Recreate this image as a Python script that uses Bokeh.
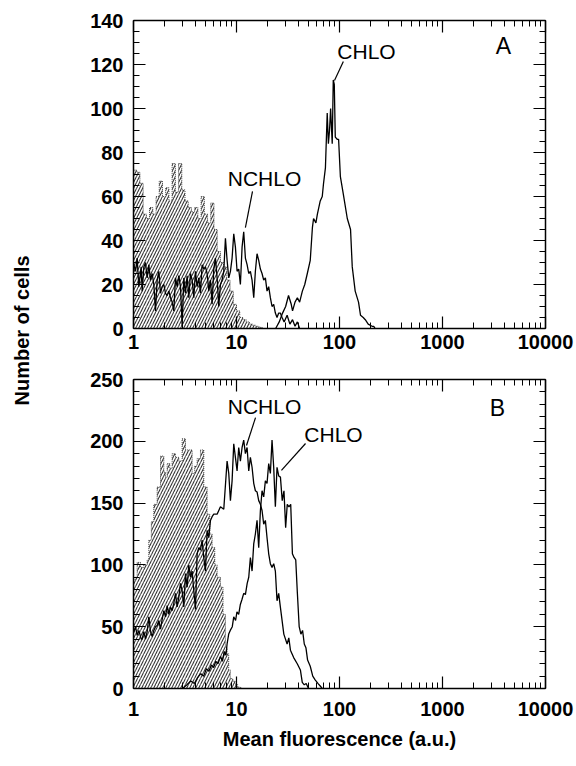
import numpy as np
from bokeh.plotting import figure
from bokeh.layouts import row, column
from bokeh.models import (Range1d, LinearAxis, LogAxis, FixedTicker, SingleIntervalTicker,
                          PrintfTickFormatter, CustomJSTickFormatter)
from bokeh.core.properties import value
from bokeh.embed import file_html
from bokeh.resources import INLINE

FONT = "Liberation Sans"

# ---------------- data: panel A ----------------
ctrlA_edges = [1.0, 1.075, 1.155, 1.241, 1.334, 1.433, 1.540, 1.656, 1.778, 1.911, 2.054, 2.207,
               2.371, 2.548, 2.738, 2.943, 3.162, 3.398, 3.652, 3.924, 4.217, 4.532, 4.870, 5.233,
               5.623, 6.043, 6.494, 6.978, 7.499, 8.058, 8.660, 9.306, 10.0, 10.75, 11.55, 12.41,
               13.34, 14.33, 15.40, 16.56, 17.78]
ctrlA_counts = [72, 71, 66, 52, 50, 55, 52, 60, 67, 60, 64, 58, 75, 62, 75, 63, 58, 55, 53, 55,
                50, 60, 52, 48, 57, 45, 35, 30, 28, 22, 17, 11, 8, 5, 4, 3, 2, 1.5, 1, 0.5]

nchloA_x = [1.007, 1.046, 1.085, 1.127, 1.187, 1.214, 1.26, 1.308, 1.357, 1.409, 1.462, 1.518,
            1.575, 1.635, 1.697, 1.762, 1.829, 1.898, 1.97, 2.045, 2.122, 2.203, 2.286, 2.373,
            2.463, 2.556, 2.653, 2.754, 2.858, 2.967, 3.079, 3.196, 3.317, 3.443, 3.574, 3.709,
            3.85, 3.996, 4.148, 4.305, 4.468, 4.638, 4.813, 4.996, 5.185, 5.382, 5.586, 5.797,
            6.017, 6.246, 6.482, 6.728, 6.983, 7.248, 7.523, 7.808, 8.104, 8.411, 8.73, 9.061,
            9.404, 9.761, 10.13, 10.51, 10.91, 11.33, 11.75, 12.2, 12.67, 13.15, 13.64, 14.16,
            14.7, 15.25, 15.83, 16.43, 17.06, 17.7, 18.37, 19.07, 19.79, 20.54, 21.32, 22.13,
            22.97, 23.84, 24.74, 25.68, 26.65, 27.7, 29.0, 31.0, 33.0, 35.0, 37.0, 39.0, 41.0]
nchloA_y = [29, 26, 32, 19, 28, 17, 28, 30, 23, 29, 22, 25, 20, 8, 22, 26, 16, 19, 20, 16,
            15, 17, 14, 12, 8, 23, 19, 24, 19, 1, 23, 16, 24, 14, 25, 22, 14, 26, 19, 23,
            16, 29, 27, 28, 25, 17, 22, 11, 27, 32, 23, 10, 20, 22, 26, 41, 31, 23, 26, 32,
            43, 37, 26, 27, 20, 37, 44, 32, 29, 25, 26, 22, 14, 26, 34, 31, 27, 25, 22, 23,
            17, 19, 14, 10, 11, 7, 5, 7, 7, 5, 3, 6, 2, 4, 1, 3, 0]

chloA_x = [24, 26, 28, 30, 32, 34, 35, 37, 39, 41, 43.6, 46, 48.7, 52, 54.6, 56, 59, 61, 65, 68,
           70, 73, 76, 78, 80, 82, 85, 87, 89, 91, 95, 98, 102, 109, 119, 128, 133, 142, 153,
           160, 170, 178, 190, 207, 215, 222]
chloA_y = [0, 3, 7, 10, 15, 11, 8, 12, 14, 12, 17, 20, 25, 31, 46, 50, 48, 52, 58, 60,
           66, 73, 98, 84, 90, 100, 84, 113, 111, 87, 86, 86, 69, 61, 50, 45, 28, 17, 12,
           6, 5, 4, 2, 1, 1, 0]

# ---------------- data: panel B ----------------
ctrlB_edges = [1.0, 1.046, 1.085, 1.17, 1.26, 1.357, 1.409, 1.49, 1.575, 1.697, 1.829, 1.97,
               2.045, 2.122, 2.25, 2.373, 2.556, 2.754, 2.967, 3.196, 3.443, 3.709, 3.93, 4.148,
               4.468, 4.813, 5.185, 5.5, 5.797, 6.15, 6.482, 6.983, 7.4, 7.8, 8.1, 8.4, 8.7,
               9.2, 9.7, 10.3, 11.0]
ctrlB_counts = [88, 90, 102, 98, 100, 104, 120, 135, 149, 163, 188, 175, 171, 182, 178, 190,
                187, 184, 202, 193, 193, 174, 180, 186, 193, 163, 141, 125, 114, 100, 90, 82,
                60, 33, 28, 15, 8, 6, 3, 1]

nchloB_x = [1.0, 1.046, 1.085, 1.127, 1.187, 1.214, 1.26, 1.308, 1.357, 1.409, 1.462, 1.518,
            1.575, 1.635, 1.697, 1.762, 1.829, 1.898, 1.97, 2.045, 2.122, 2.203, 2.286, 2.373,
            2.463, 2.556, 2.653, 2.754, 2.858, 2.967, 3.079, 3.196, 3.317, 3.443, 3.574, 3.709,
            3.85, 3.996, 4.148, 4.305, 4.468, 4.638, 4.813, 4.996, 5.185, 5.382, 5.586, 5.797,
            6.017, 6.482, 6.983, 7.523, 8.104, 8.411, 8.73, 9.061, 9.404, 9.761, 10.13, 10.51,
            10.91, 11.33, 11.75, 12.2, 12.67, 13.15, 13.64, 14.16, 14.7, 15.25, 15.83, 16.43,
            17.06, 17.7, 18.37, 19.07, 19.79, 20.54, 21.32, 22.13, 22.97, 23.84, 24.74, 25.68,
            26.65, 28.8, 31.0, 32.2, 33.4, 35.9, 38.9, 41.7, 43.5, 45.5, 47.5, 50.0]
nchloB_y = [45, 50, 43, 47, 40, 40, 46, 40, 46, 58, 46, 42, 47, 50, 51, 55, 48, 56, 63, 58,
            67, 60, 66, 63, 69, 77, 66, 74, 85, 79, 66, 93, 82, 100, 90, 95, 79, 64, 109, 114,
            112, 120, 106, 95, 128, 122, 136, 139, 141, 141, 147, 145, 184, 174, 152, 168, 198,
            187, 176, 195, 184, 195, 201, 190, 195, 176, 187, 179, 166, 160, 159, 152, 149, 144,
            133, 136, 122, 109, 101, 98, 101, 95, 71, 77, 66, 44, 36, 41, 31, 25, 20, 15, 5, 3,
            4, 0]

chloB_x = [3.0, 3.3, 3.6, 3.9, 4.2, 4.5, 4.8, 5.1, 5.4, 5.7, 6.0, 6.3, 6.6, 7.0, 7.3, 7.6, 7.9,
           8.1, 8.4, 8.7, 9.1, 9.4, 9.8, 10.1, 10.5, 10.9, 11.3, 11.75, 12.2, 12.7, 13.15, 13.64,
           14.16, 14.7, 15.25, 15.83, 16.43, 17.06, 17.7, 18.37, 19.07, 19.79, 20.54, 21.32,
           22.13, 22.97, 23.84, 24.74, 25.7, 26.7, 27.8, 28.9, 30.0, 31.1, 32.3, 33.6, 34.9,
           36.2, 37.6, 39.0, 40.6, 42.2, 43.8, 45.5, 47.2, 49.0, 52.0, 55.0, 58.0, 62.0, 65.0, 68.0]
chloB_y = [0, 3, 6, 4, 9, 12, 10, 16, 14, 19, 17, 22, 20, 26, 22, 30, 27, 36, 44, 47, 50, 58,
           55, 62, 60, 68, 72, 77, 76, 85, 90, 106, 95, 117, 125, 136, 114, 144, 160, 155, 168,
           166, 182, 174, 201, 179, 147, 179, 172, 171, 152, 160, 130, 149, 147, 149, 109, 106,
           104, 77, 50, 44, 47, 36, 33, 23, 18, 10, 7, 4, 2, 0]

# ---------------- labels ----------------
x_tick_values = [1, 10, 100, 1000, 10000]
x_minor_values = [m * d for d in [1, 10, 100, 1000] for m in range(2, 10)]

labelsA_text = ["NCHLO", "CHLO", "A"]
labelsA_x = [18.7, 183, 3900]
labelsA_y = [68, 126, 128.5]
leadersA_x0 = [14.3, 109]
leadersA_y0 = [62.3, 121.4]
leadersA_x1 = [12.2, 89.4]
leadersA_y1 = [45.9, 112.7]

labelsB_text = ["NCHLO", "CHLO", "B"]
labelsB_x = [18.7, 87.5, 3420]
labelsB_y = [228, 205.5, 227.3]
leadersB_x0 = [15.3, 46.8]
leadersB_y0 = [219.2, 198.2]
leadersB_x1 = [12.5, 27.3]
leadersB_y1 = [196.6, 176.4]


def make_panel(height, top, bottom, ymax, interval, nminor,
               ctrl_edges, ctrl_counts, n_x, n_y, c_x, c_y,
               lab_t, lab_x, lab_y, lx0, ly0, lx1, ly1, label_standoff, xtitle=None):
    p = figure(width=516, height=height, x_axis_type="log",
               x_range=Range1d(1, 10000), y_range=Range1d(0, ymax),
               output_backend="svg", toolbar_location=None,
               min_border_left=73, min_border_right=31,
               min_border_top=top, min_border_bottom=bottom)
    p.grid.visible = False
    p.outline_line_color = None
    p.background_fill_color = "white"

    xt = FixedTicker(ticks=x_tick_values, minor_ticks=x_minor_values)
    yt = SingleIntervalTicker(interval=interval, num_minor_ticks=nminor)

    def style(ax):
        ax.axis_line_color = "black"
        ax.axis_line_width = 1.5
        ax.major_tick_line_color = "black"
        ax.minor_tick_line_color = "black"
        ax.major_tick_line_width = 1.2
        ax.minor_tick_line_width = 1
        ax.major_tick_in = 12
        ax.major_tick_out = 0
        ax.minor_tick_in = 6
        ax.minor_tick_out = 0
        ax.major_label_text_font = FONT
        ax.major_label_text_font_style = "bold"
        ax.major_label_text_font_size = "20px"
        ax.major_label_text_color = "black"

    xa = p.xaxis[0]
    xa.ticker = xt
    xa.formatter = PrintfTickFormatter(format="%d")
    style(xa)
    xa.major_label_standoff = label_standoff
    if xtitle:
        xa.axis_label = xtitle
        xa.axis_label_text_font = FONT
        xa.axis_label_text_font_style = "bold"
        xa.axis_label_text_font_size = "20px"
        xa.axis_label_text_color = "black"
        xa.axis_label_standoff = 9

    ya = p.yaxis[0]
    ya.ticker = yt
    style(ya)
    ya.major_label_standoff = 10

    empty = CustomJSTickFormatter(code="return ''")
    top_ax = LogAxis(ticker=xt, formatter=empty)
    style(top_ax)
    top_ax.major_label_text_font_size = "1px"
    top_ax.major_label_standoff = 0
    p.add_layout(top_ax, "above")
    right_ax = LinearAxis(ticker=yt, formatter=empty)
    style(right_ax)
    right_ax.major_label_text_font_size = "1px"
    right_ax.major_label_standoff = 0
    p.add_layout(right_ax, "right")

    # control histogram: hatched bars with dotted outline
    p.quad(left=ctrl_edges[:-1], right=ctrl_edges[1:], bottom=0, top=ctrl_counts,
           fill_color=None, line_color=None,
           hatch_pattern="/", hatch_color="#333333", hatch_weight=1.1, hatch_scale=6)
    p.step(x=ctrl_edges, y=list(ctrl_counts) + [0], mode="after",
           line_color="#444444", line_width=1, line_dash="1 1")

    p.line(n_x, n_y, line_color="black", line_width=1.3)
    p.line(c_x, c_y, line_color="black", line_width=1.3)

    p.segment(x0=lx0, y0=ly0, x1=lx1, y1=ly1, line_color="black", line_width=1.2)
    p.text(x=lab_x[:2], y=lab_y[:2], text=lab_t[:2], text_font=value(FONT),
           text_font_size="21px", text_align="center", text_baseline="middle",
           text_color="black")
    p.text(x=lab_x[2:], y=lab_y[2:], text=lab_t[2:], text_font=value(FONT),
           text_font_size="23px", text_align="center", text_baseline="middle",
           text_color="black")
    return p


pA = make_panel(360, 20, 32, 140, 20, 4, ctrlA_edges, ctrlA_counts,
                nchloA_x, nchloA_y, chloA_x, chloA_y,
                labelsA_text, labelsA_x, labelsA_y,
                leadersA_x0, leadersA_y0, leadersA_x1, leadersA_y1, label_standoff=6)
pB = make_panel(406, 19, 78, 250, 50, 5, ctrlB_edges, ctrlB_counts,
                nchloB_x, nchloB_y, chloB_x, chloB_y,
                labelsB_text, labelsB_x, labelsB_y,
                leadersB_x0, leadersB_y0, leadersB_x1, leadersB_y1, label_standoff=13,
                xtitle="Mean fluorescence (a.u.)")

yl = figure(width=60, height=766, x_range=Range1d(0, 60), y_range=Range1d(0, 766),
            output_backend="svg", toolbar_location=None, min_border=0,
            x_axis_location=None, y_axis_location=None)
yl.grid.visible = False
yl.outline_line_color = None
yl.text(x=[21], y=[436], text=["Number of cells"], angle=np.pi / 2,
        text_align="center", text_baseline="middle", text_font=value(FONT),
        text_font_style="bold", text_font_size="20px", text_color="black")

layout = row(yl, column(pA, pB))
open("out.html", "w").write(file_html(layout, INLINE))
